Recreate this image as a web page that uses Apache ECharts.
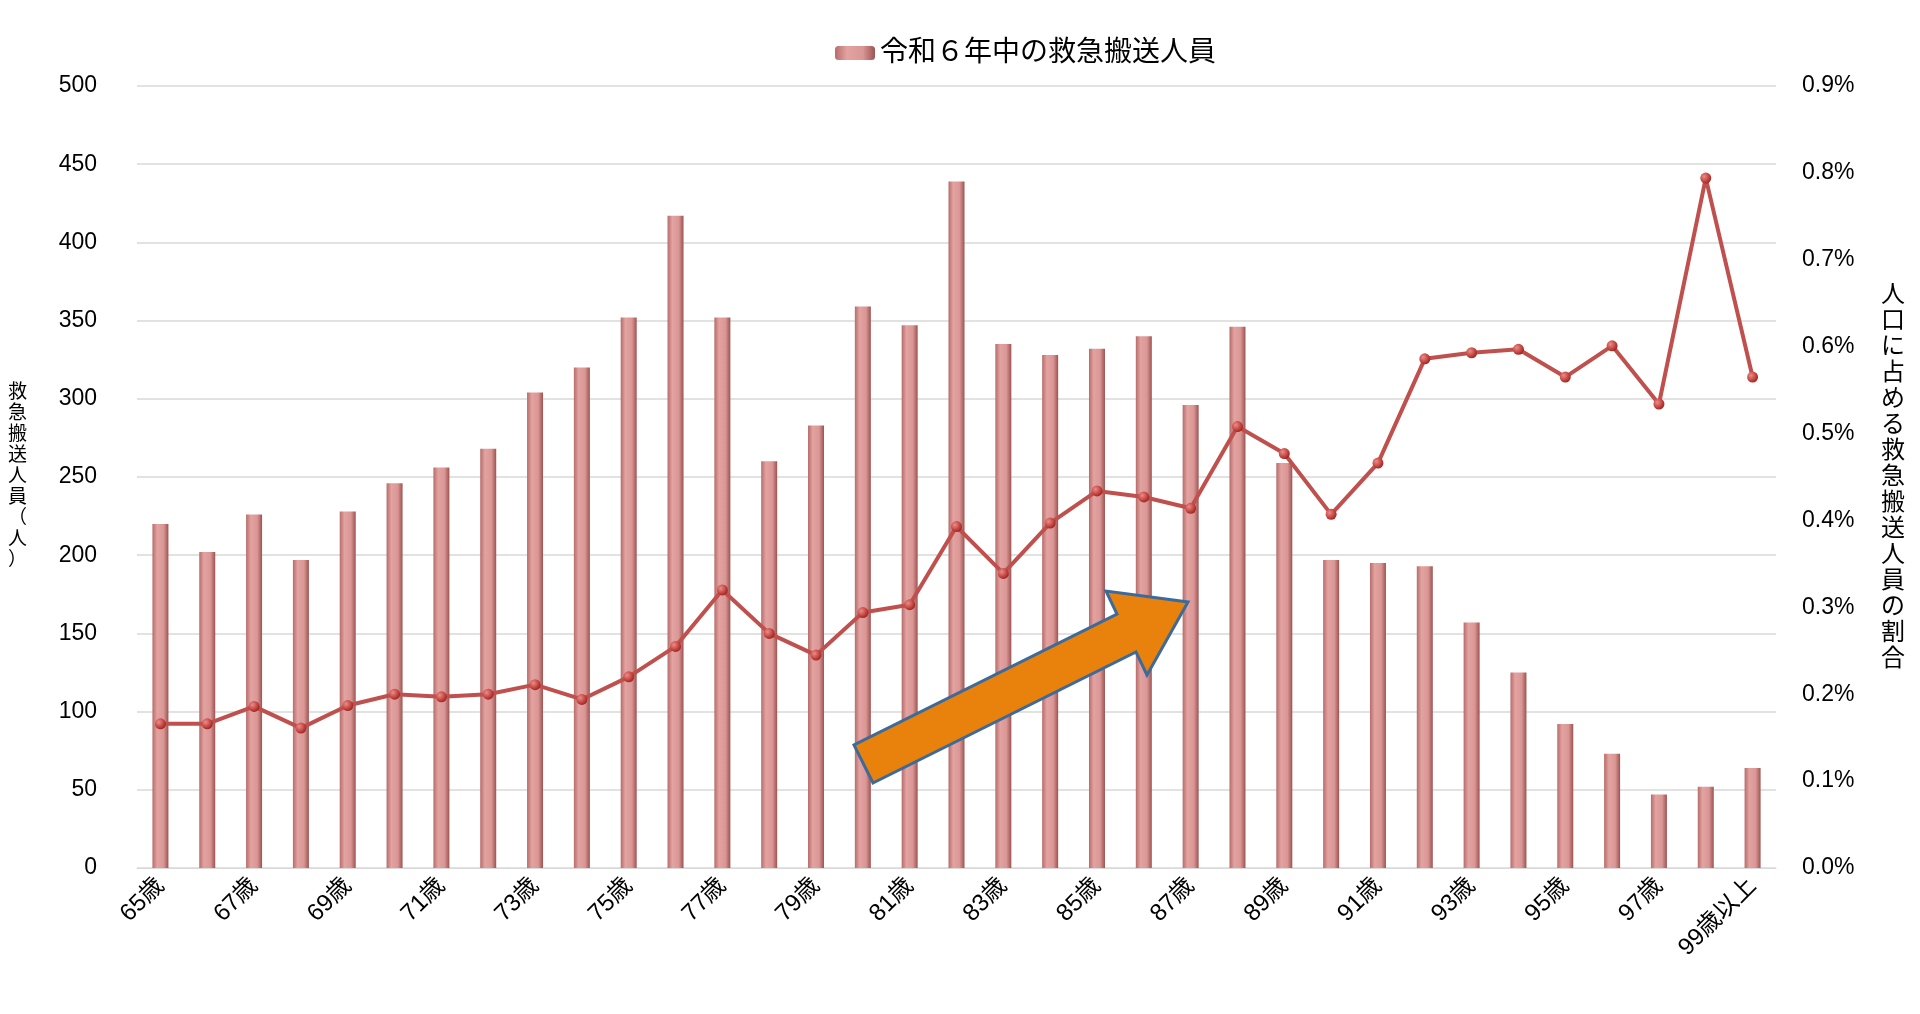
<!DOCTYPE html>
<html lang="ja">
<head>
<meta charset="UTF-8">
<title>救急搬送人員</title>
<script src="https://cdn.jsdelivr.net/npm/echarts@6/dist/echarts.min.js"></script>
<style>html,body{margin:0;background:#fff}</style>
</head>
<body>
<div id="main" style="width:1920px;height:1014px;"></div>
<script type="text/javascript">
var ages = [];
for (var a = 65; a <= 98; a++) ages.push(a + '歳');
ages.push('99歳以上');

var persons = [220, 202, 226, 197, 228, 246, 256, 268, 304, 320, 352, 417, 352, 260, 283, 359, 347, 439,
    335, 328, 332, 340, 296, 346, 259, 197, 195, 193, 157, 125, 92, 73, 47, 52, 64];
var ratio = [0.166, 0.166, 0.186, 0.161, 0.187, 0.200, 0.197, 0.200, 0.211, 0.194, 0.220, 0.255, 0.320,
    0.270, 0.245, 0.294, 0.303, 0.393, 0.339, 0.397, 0.434, 0.427, 0.414, 0.508, 0.477, 0.407, 0.466,
    0.586, 0.593, 0.597, 0.565, 0.601, 0.534, 0.794, 0.565];
var leftTicks = [0, 50, 100, 150, 200, 250, 300, 350, 400, 450, 500];

var myChart = echarts.init(document.getElementById('main'));
var font = '"Liberation Sans", Arial, "Noto Sans CJK JP", sans-serif';

function vert(s) { return s.split('').join('\n'); }

var option = {
    textStyle: {fontFamily: font},
    legend: {
        top: 34, left: 830,
        data: ['令和６年中の救急搬送人員'],
        itemWidth: 40, itemHeight: 14,
        textStyle: {fontSize: 28, color: '#000', fontFamily: font}
    },
    grid: {left: 137, right: 144, top: 86, bottom: 146},
    xAxis: {
        type: 'category',
        data: ages,
        axisTick: {show: false},
        axisLine: {lineStyle: {color: '#d9d9d9'}},
        axisLabel: {interval: 1, rotate: 45, fontSize: 24, color: '#000', margin: 14}
    },
    yAxis: [{
        type: 'value', min: leftTicks[0], max: leftTicks[leftTicks.length - 1], interval: 50,
        name: vert('救急搬送人員（人）'), nameLocation: 'middle', nameGap: 110, nameRotate: 0,
        nameTextStyle: {fontSize: 19, color: '#000', lineHeight: 21},
        axisLabel: {fontSize: 23, color: '#000', margin: 40},
        splitLine: {lineStyle: {color: '#d9d9d9', width: 1.5}}
    }, {
        type: 'value', min: 0, max: 0.9, interval: 0.1,
        name: vert('人口に占める救急搬送人員の割合'), nameLocation: 'middle', nameGap: 105, nameRotate: 0,
        nameTextStyle: {fontSize: 24, color: '#000', lineHeight: 26},
        axisLabel: {fontSize: 23, color: '#000', margin: 26,
            formatter: function (v) { return v.toFixed(1) + '%'; }},
        splitLine: {show: false}
    }],
    series: [{
        name: '令和６年中の救急搬送人員',
        type: 'bar',
        data: persons,
        barWidth: 16,
        itemStyle: {
            color: new echarts.graphic.LinearGradient(0, 0, 1, 0, [
                {offset: 0, color: '#b66c6a'}, {offset: 0.3, color: '#e3a3a1'},
                {offset: 0.7, color: '#d99694'}, {offset: 1, color: '#9c5351'}])
        }
    }, {
        name: '割合',
        type: 'line',
        yAxisIndex: 1,
        data: ratio,
        symbol: 'circle', symbolSize: 11,
        lineStyle: {color: '#c0504d', width: 4},
        itemStyle: {
            color: new echarts.graphic.RadialGradient(0.35, 0.35, 0.7, [
                {offset: 0, color: '#f08a86'}, {offset: 1, color: '#a3201c'}])
        }
    }],
    graphic: [{
        type: 'polygon',
        shape: {points: [[873, 783], [1136, 652], [1147, 675], [1188, 602], [1106, 591], [1117, 614], [854, 745]]},
        style: {fill: '#e8820c', stroke: '#3c6a9a', lineWidth: 3},
        z: 100
    }]
};

myChart.setOption(option);
</script>
</body>
</html>
